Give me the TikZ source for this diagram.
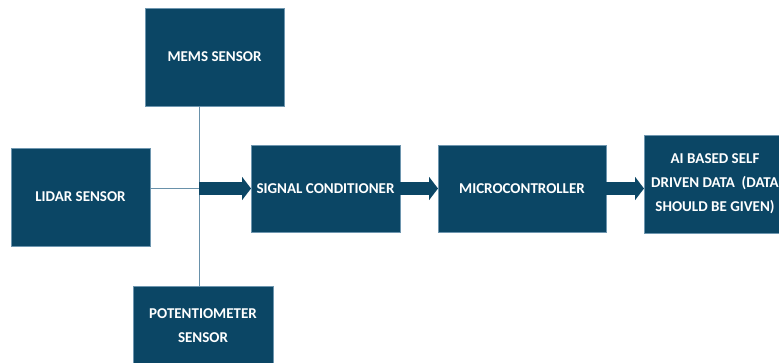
\documentclass[tikz,border=0pt]{standalone}
\usepackage{fontspec}
\setmainfont{Carlito}
\usetikzlibrary{arrows.meta,calc}
\definecolor{boxfill}{RGB}{11,70,101}
\definecolor{boxedge}{RGB}{110,150,175}
\definecolor{linec}{RGB}{105,145,170}
\tikzset{
  blk/.style={rectangle, fill=boxfill, draw=boxedge, line width=0.6pt, outer sep=0pt,
    text=white, font=\fontsize{15}{24}\selectfont\bfseries, align=center, inner sep=2pt},
  fatarrow/.style={draw=boxfill, line width=13pt, -{Triangle[width=23pt,length=9pt]}},
  thin/.style={draw=linec, line width=0.9pt}
}
\begin{document}
\begin{tikzpicture}[x=1pt,y=-1pt]
\useasboundingbox (0,0) rectangle (779,363);
\begin{scope}
\clip (0,0) rectangle (779,363);
\node[blk, minimum width=139pt, minimum height=98pt] (mems) at (214.5,57) {MEMS SENSOR};
\node[blk, minimum width=139pt, minimum height=98pt] (lidar) at (80.5,197) {LIDAR SENSOR};
\node[blk, minimum width=140pt, minimum height=80pt] (pot) at (203,326) {POTENTIOMETER\\SENSOR};
\node[blk, minimum width=149pt, minimum height=87pt] (sc) at (325.5,188.5) {SIGNAL CONDITIONER};
\node[blk, minimum width=168pt, minimum height=87pt] (mc) at (522,188.5) {MICROCONTROLLER};
\node[blk, minimum width=142pt, minimum height=98pt] (ai) at (715,184) {AI BASED SELF\\DRIVEN DATA~~(DATA\\SHOULD BE GIVEN)};
\coordinate (j) at (199,188.5);
\draw[thin] (mems.south -| j) -- (pot.north -| j);
\draw[thin] (lidar.east |- j) -- (j);
\draw[fatarrow] (j) -- (sc.west);
\draw[fatarrow] (sc.east) -- (mc.west);
\draw[fatarrow] (mc.east) -- (ai.west |- mc.east);
\end{scope}
\end{tikzpicture}
\end{document}
